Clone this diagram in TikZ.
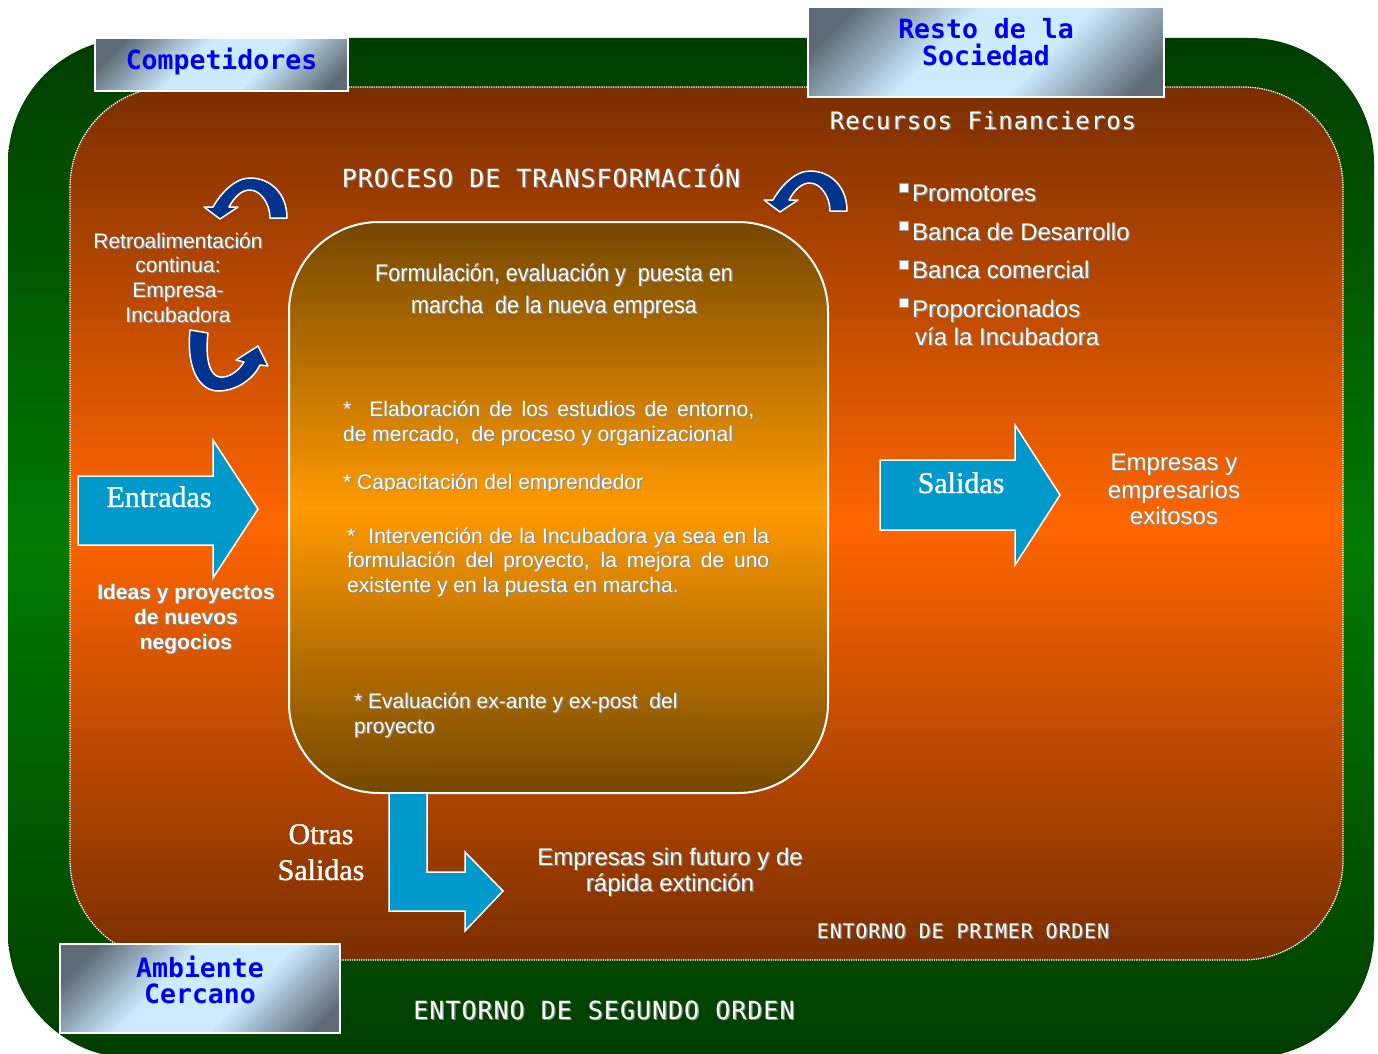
\documentclass[tikz,border=0pt]{standalone}
\usepackage{fontspec}
\setmainfont{Liberation Sans}
\newfontfamily\serifF[FakeBold=1.2]{Liberation Serif}
\newfontfamily\monoP{DejaVu Sans Mono}
\newfontfamily\monoS[LetterSpace=4]{DejaVu Sans Mono}
\newfontfamily\narrowF[FakeStretch=0.9]{Liberation Sans}
\newcommand\fs[1]{\fontsize{#1}{#1}\selectfont}
\newcommand\stext[1]{\makebox[0pt][l]{\raisebox{-1.3pt}{\hspace*{1.3pt}\color{black!45}#1}}#1}
\definecolor{gdark}{HTML}{003D00}
\definecolor{gmid}{HTML}{007A00}
\definecolor{odark}{HTML}{7A2E00}
\definecolor{omid}{HTML}{FF6600}
\definecolor{cdark}{HTML}{744800}
\definecolor{cmid}{HTML}{FF9A00}
\definecolor{arrowblue}{HTML}{0099CC}
\definecolor{navy}{HTML}{00348F}
\definecolor{boxdark}{HTML}{5E6B76}
\definecolor{boxlight}{HTML}{CCEBFF}
\definecolor{lblblue}{HTML}{0000F0}
\pgfdeclarehorizontalshading{lblshade}{100bp}{color(0bp)=(boxdark); color(22bp)=(boxdark); color(42bp)=(boxlight); color(60bp)=(boxlight); color(80bp)=(boxdark); color(100bp)=(boxdark)}
\tikzset{
  wt/.style={text=white, inner sep=0pt, anchor=base},
  wtl/.style={text=white, inner sep=0pt, anchor=base west},
  bigarrow/.style={fill=arrowblue, draw=white, line width=1.5pt, line join=miter},
  curv/.style={fill=navy, draw=white, line width=1.5pt, line join=round},
  lblbox/.style={shade, shading=lblshade, shading angle=-45, draw=white, line width=1.5pt},
  lbltext/.style={text=lblblue, inner sep=0pt, anchor=base, font={\monoP\bfseries\fs{26.5}}},
  bullet/.style={fill=white, draw=black!40, line width=0.5pt}
}
\begin{document}
\begin{tikzpicture}[x=1pt,y=-1pt]
\useasboundingbox (0,0) rectangle (1378,1054);
\clip (0,0) rectangle (1378,1054);
\fill[white] (0,0) rectangle (1378,1054);
% outer green environment
\path[top color=gdark, bottom color=gdark, middle color=gmid, rounded corners=125pt] (8,38) rectangle (1374,1058);
% inner orange environment
\path[top color=odark, bottom color=odark, middle color=omid, rounded corners=100pt] (70,87) rectangle (1343,960);
\draw[white, densely dotted, line width=1.3pt, rounded corners=100pt] (70,87) rectangle (1343,960);
% central box
\draw[top color=cdark, bottom color=cdark, middle color=cmid, draw=white, line width=2pt, rounded corners=90pt] (289,222) rectangle (828,793);

% label boxes
\path[lblbox] (95,38) rectangle (348,91);
\node[lbltext] (comp) at (221.5,70) {Competidores};
\path[lblbox] (808,7) rectangle (1164,97);
\node[lbltext] (resto1) at (986,39) {Resto de la};
\node[lbltext] (resto2) at (986,66) {Sociedad};
\path[lblbox] (60,944) rectangle (340,1033);
\node[lbltext] (amb1) at (200,977) {Ambiente};
\node[lbltext] (amb2) at (200,1003) {Cercano};

% white mono titles
\node[wt, font={\monoS\fs{24}}] (recursos) at (983,129) {\stext{Recursos Financieros}};
\node[wt, font={\monoS\fs{25}}] (proceso) at (541,187) {\stext{PROCESO DE TRANSFORMACIÓN}};
\node[wt, font={\monoS\fs{20}}] (primer) at (963,938) {\stext{ENTORNO DE PRIMER ORDEN}};
\node[wt, font={\monoS\fs{25}}] (segundo) at (604,1019) {\stext{ENTORNO DE SEGUNDO ORDEN}};

% curved arrows
\foreach \sx/\sy in {250/178, 810/171}{
  \draw[curv, shift={(\sx,\sy)}] (37,40) .. controls (37,15) and (20,0) .. (0,0)
    .. controls (-15,0) and (-29,15) .. (-37,29) -- (-46,29) -- (-30,41) -- (-12,29) -- (-21,29)
    .. controls (-15,18) and (-8,12) .. (0,12) .. controls (10,12) and (20,25) .. (20,40) -- cycle;
}
\draw[curv] (190,330) .. controls (186,370) and (200,392) .. (220,391)
  .. controls (238,390) and (254,378) .. (260,365) -- (268,366) -- (258,346) -- (236,360) -- (244,362)
  .. controls (238,372) and (228,378) .. (220,377) .. controls (210,376) and (205,360) .. (208,333) -- cycle;

% big arrows
\draw[bigarrow] (78,476) -- (213,476) -- (213,440) -- (258,509) -- (213,578) -- (213,545) -- (78,545) -- cycle;
\draw[bigarrow] (880,460) -- (1015,460) -- (1015,425) -- (1060,495) -- (1015,565) -- (1015,530) -- (880,530) -- cycle;
\draw[bigarrow] (389,793) -- (427,793) -- (427,872) -- (465,872) -- (465,852) -- (503,891) -- (465,931) -- (465,911) -- (389,911) -- cycle;

\node[wt, font={\serifF\fs{30}}] (entradas) at (159,507) {Entradas};
\node[wt, font={\serifF\fs{30}}] (salidas) at (961,493) {Salidas};
\node[wt, font={\serifF\fs{30}}] (otras1) at (321,844) {Otras};
\node[wt, font={\serifF\fs{30}}] (otras2) at (321,880) {Salidas};

% left texts
\node[wt, font={\fs{21}}] (retro1) at (178,248) {\stext{Retroalimentación}};
\node[wt, font={\fs{21}}] (retro2) at (178,272) {\stext{continua:}};
\node[wt, font={\fs{21}}] (retro3) at (178,297) {\stext{Empresa-}};
\node[wt, font={\fs{21}}] (retro4) at (178,322) {\stext{Incubadora}};
\node[wt, font={\bfseries\fs{21}}] (ideas1) at (186,599) {\stext{Ideas y proyectos}};
\node[wt, font={\bfseries\fs{21}}] (ideas2) at (186,624) {\stext{de nuevos}};
\node[wt, font={\bfseries\fs{21}}] (ideas3) at (186,649) {\stext{negocios}};

% right texts
\foreach \yy in {183,221,260,298}{\path[bullet] (899,\yy) rectangle ++(9,9);}
\node[wtl, font={\fs{24}}] (b1) at (912,201.5) {\stext{Promotores}};
\node[wtl, font={\fs{24}}] (b2) at (912,240.5) {\stext{Banca de Desarrollo}};
\node[wtl, font={\fs{24}}] (b3) at (912,278.5) {\stext{Banca comercial}};
\node[wtl, font={\fs{24}}] (b4) at (912,317.5) {\stext{Proporcionados}};
\node[wtl, font={\fs{24}}] (b5) at (915,345.5) {\stext{vía la Incubadora}};
\node[wt, font={\fs{24}}] (ex1) at (1174,470.5) {\stext{Empresas y}};
\node[wt, font={\fs{24}}] (ex2) at (1174,498) {\stext{empresarios}};
\node[wt, font={\fs{24}}] (ex3) at (1174,524.5) {\stext{exitosos}};
\node[wt, font={\fs{24}}] (sf1) at (670,865.5) {\stext{Empresas sin futuro y de}};
\node[wt, font={\fs{24}}] (sf2) at (670,891.5) {\stext{rápida extinción}};

% central box texts
\node[wt, font={\narrowF\fs{24}}] (f1) at (554,281) {\stext{Formulación, evaluación y\ \ puesta en}};
\node[wt, font={\narrowF\fs{24}}] (f2) at (554,313) {\stext{marcha\ \ de la nueva empresa}};
\node[wtl, font={\fs{21}}] (p1a) at (343,416.5) {\stext{\makebox[411pt][s]{*\ \ Elaboración de los estudios de entorno,}}};
\node[wtl, font={\fs{21}}] (p1b) at (343,441.5) {\stext{de mercado,\ \ de proceso y organizacional}};
\begin{scope}
\clip (330,460) rectangle (700,490.5);
\node[wtl, font={\fs{21}}] (p2) at (343,489.5) {\stext{* Capacitación del emprendedor}};
\end{scope}
\node[wtl, font={\fs{21}}] (p3a) at (347,543.5) {\stext{\makebox[422pt][s]{*\ \ Intervención de la Incubadora ya sea en la}}};
\node[wtl, font={\fs{21}}] (p3b) at (347,567.5) {\stext{\makebox[422pt][s]{formulación del proyecto, la mejora de uno}}};
\node[wtl, font={\fs{21}}] (p3c) at (347,592.5) {\stext{existente y en la puesta en marcha.}};
\node[wtl, font={\fs{21}}] (p4a) at (354,708.5) {\stext{* Evaluación ex-ante y ex-post\ \ del}};
\node[wtl, font={\fs{21}}] (p4b) at (354,733.5) {\stext{proyecto}};
\end{tikzpicture}
\end{document}
